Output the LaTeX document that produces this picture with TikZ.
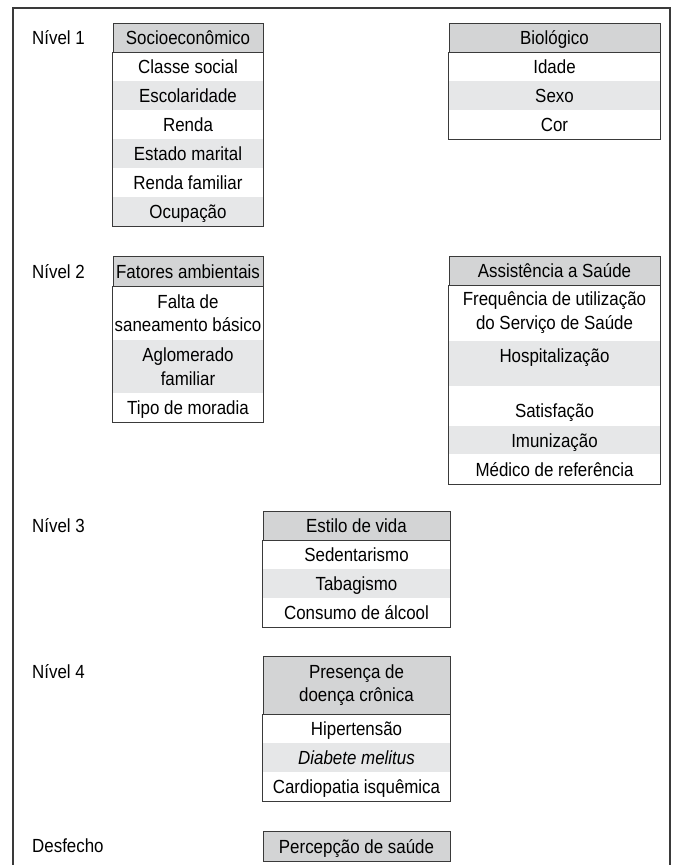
\documentclass[tikz,border=0pt]{standalone}
\usepackage{fontspec}
\setmainfont{Liberation Sans}[FakeStretch=0.89]
\usetikzlibrary{positioning}
\definecolor{hdgray}{HTML}{D3D4D5}
\definecolor{rowgray}{HTML}{E6E7E8}
\definecolor{edge}{HTML}{3A3A3A}
\begin{document}
\begin{tikzpicture}[x=1pt,y=-1pt,font=\fontsize{19}{23.5}\selectfont]
\tikzstyle{hd}=[draw=edge,line width=0.9pt,fill=hdgray,inner sep=0pt,align=center]
\tikzstyle{rw}=[inner sep=0pt,align=center,anchor=north]
\tikzstyle{one}=[text height=15.5,text depth=1.5]
\tikzstyle{box}=[draw=edge,line width=0.9pt]
\useasboundingbox (0,0) rectangle (675,865);
\draw[edge,line width=1.3pt] (13,865) -- (13,8) -- (670,8) -- (670,865);
% niveis
\foreach \n/\t/\y in {n1/Nível 1/38,n2/Nível 2/272,n3/Nível 3/526,n4/Nível 4/672,ds/Desfecho/846}
 \node[anchor=west,inner sep=0pt] (\n) at (32,\y) {\t};
% nivel 1
\node[hd,one,minimum width=150,minimum height=29] (soc) at (188,37.5) {Socioeconômico};
\foreach \t/\f [count=\i from 0] in {Classe social/white,Escolaridade/rowgray,Renda/white,Estado marital/rowgray,Renda familiar/white,Ocupação/rowgray}
 \node[rw,one,fill=\f,minimum width=150,minimum height=29] (soc\i) at (188,52+29*\i) {\t};
\draw[box] (soc.south west) rectangle (soc5.south east);
\node[hd,one,minimum width=211,minimum height=29] (bio) at (554.5,37.5) {Biológico};
\foreach \t/\f [count=\i from 0] in {Idade/white,Sexo/rowgray,Cor/white}
 \node[rw,one,fill=\f,minimum width=211,minimum height=29] (bio\i) at (554.5,52+29*\i) {\t};
\draw[box] (bio.south west) rectangle (bio2.south east);
% nivel 2
\node[hd,one,minimum width=150,minimum height=30] (amb) at (188,271) {Fatores ambientais};
\foreach \t/\y/\h/\f [count=\i from 0] in {{Falta de\\saneamento básico}/286/54/white,{Aglomerado\\familiar}/340/53/rowgray}
 \node[rw,fill=\f,minimum width=150,minimum height=\h] (amb\i) at (188,\y) {\t};
\node[rw,one,fill=white,minimum width=150,minimum height=29] (amb2) at (188,393) {Tipo de moradia};
\draw[box] (amb.south west) rectangle (amb2.south east);
\node[hd,one,minimum width=211,minimum height=29] (ass) at (554.5,270.5) {Assistência a Saúde};
\node[rw,fill=white,minimum width=211,minimum height=55] (ass0) at (554.5,285) {Frequência de utilização\\do Serviço de Saúde};
\node[rw,fill=rowgray,minimum width=211,minimum height=45,text depth=15] (ass1) [below=0pt of ass0] {Hospitalização};
\node[rw,fill=white,minimum width=211,minimum height=40,text height=23,text depth=0] (ass2) [below=0pt of ass1] {Satisfação};
\node[rw,one,fill=rowgray,minimum width=211,minimum height=28] (ass3) [below=0pt of ass2] {Imunização};
\node[rw,one,fill=white,minimum width=211,minimum height=29] (ass4) [below=0pt of ass3] {Médico de referência};
\draw[box] (ass.south west) rectangle (ass4.south east);
% nivel 3
\node[hd,one,minimum width=187,minimum height=29] (est) at (356.5,525.5) {Estilo de vida};
\foreach \t/\f [count=\i from 0] in {Sedentarismo/white,Tabagismo/rowgray,Consumo de álcool/white}
 \node[rw,one,fill=\f,minimum width=187,minimum height=29] (est\i) at (356.5,540+29*\i) {\t};
\draw[box] (est.south west) rectangle (est2.south east);
% nivel 4
\node[hd,minimum width=187,minimum height=58] (doe) at (356.5,685) {Presença de\\doença crônica};
\foreach \t/\f [count=\i from 0] in {Hipertensão/white,\textit{Diabete melitus}/rowgray,Cardiopatia isquêmica/white}
 \node[rw,one,fill=\f,minimum width=187,minimum height=29] (doe\i) at (356.5,714+29*\i) {\t};
\draw[box] (doe.south west) rectangle (doe2.south east);
% desfecho
\node[hd,one,minimum width=187,minimum height=30] (per) at (356.5,846) {Percepção de saúde};
\end{tikzpicture}
\end{document}
